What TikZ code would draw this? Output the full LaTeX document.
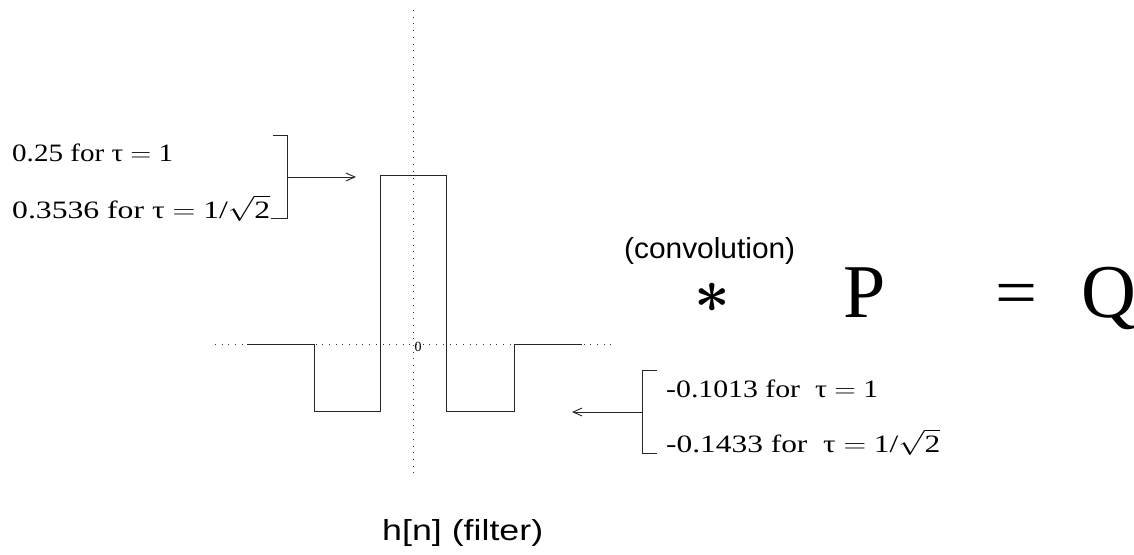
\RequirePackage{fix-cm}
\documentclass[tikz,border=0pt]{standalone}
\usepackage{bm}
\usepackage{fontspec}
\usepackage{graphicx}
\setmainfont{Liberation Serif}
\newfontfamily\helv{Liberation Sans}
\usetikzlibrary{arrows.meta}
\newcommand{\fitw}[3]{\resizebox{#1}{\height}{\fontsize{#2}{#2}\selectfont #3}}
\begin{document}
\begin{tikzpicture}[x=1pt,y=-1pt,
  ln/.style={line width=0.9pt,draw=black!85},
  dots/.style={line width=1pt,draw=black!80,dash pattern=on 1pt off 5.7pt},
  arr/.style={ln,-{Straight Barb[length=9pt,width=8pt]}},
  txt/.style={inner sep=0pt,anchor=base west}]
\useasboundingbox (0,0) rectangle (1134,554);
% axes
\coordinate (vt) at (413,10);
\coordinate (vb) at (413,476);
\coordinate (hl) at (215,344);
\coordinate (hr) at (613,344);
\draw[dots] (vt) -- (vb);
\draw[dots] (hl) -- (hr);
% signal
\draw[ln] (247,344) -- (314,344) -- (314,411) -- (380.5,411) -- (380.5,175) -- (446.5,175)
  -- (446.5,411) -- (514,411) -- (514,344) -- (582,344);
\node[inner sep=0pt] (zero) at (418,347) {\fontsize{14}{14}\selectfont 0};
% upper labels
\node[txt] (a1) at (12,161) {\fitw{161pt}{25}{0.25 for τ $=$ 1}};
\node[txt] (a2) at (12,218) {\fitw{258pt}{25}{0.3536 for τ $=$ 1/$\sqrt{\mbox{2}}$}};
\coordinate (ub1) at (273,135);
\coordinate (ub2) at (287,135);
\coordinate (ub3) at (287,218);
\coordinate (ub4) at (271,218);
\coordinate (um) at (287,177);
\coordinate (ut) at (356,177);
\draw[ln] (ub1) -- (ub2) -- (ub3) -- (ub4);
\draw[arr] (um) -- (ut);
% lower labels
\node[txt] (b1) at (666,397) {\fitw{212pt}{25}{-0.1013 for \ τ $=$ 1}};
\node[txt] (b2) at (666,452) {\fitw{274pt}{25}{-0.1433 for \ τ $=$ 1/$\sqrt{\mbox{2}}$}};
\coordinate (lb1) at (657,370);
\coordinate (lb2) at (642,370);
\coordinate (lb3) at (642,453);
\coordinate (lb4) at (657,453);
\coordinate (lm) at (642,412);
\coordinate (lt) at (572,412);
\draw[ln] (lb1) -- (lb2) -- (lb3) -- (lb4);
\draw[arr] (lm) -- (lt);
% equation
\node[txt] (conv) at (624,258) {\fitw{171pt}{29}{\helv (convolution)}};
\node[inner sep=0pt,anchor=base] (ast) at (712,312.5) {\fontsize{62}{62}\selectfont\smash{$\bm{\ast}$}};
\node[txt] (P) at (843,317) {\fontsize{76}{76}\selectfont P};
\node[inner sep=0pt] (eq) at (1016,299.5) {\resizebox{42pt}{\height}{\fontsize{68}{68}\selectfont =}};
\node[txt] (Q) at (1081,317) {\fontsize{76}{76}\selectfont Q};
\node[txt] (h) at (382,540) {\fitw{161pt}{29}{\helv h[n] (filter)}};
\end{tikzpicture}
\end{document}
